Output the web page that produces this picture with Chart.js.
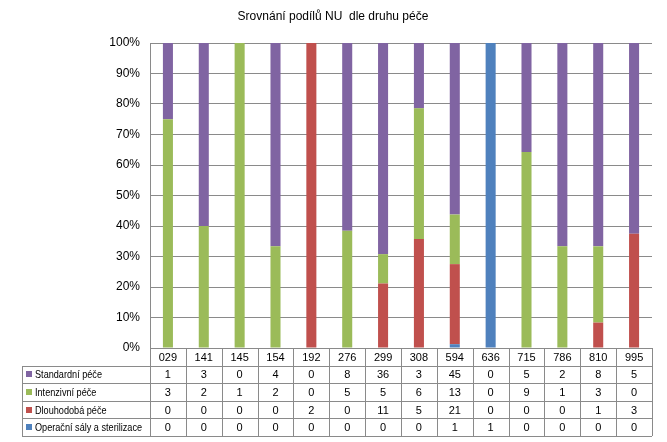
<!DOCTYPE html>
<html>
<head>
<meta charset="utf-8">
<script src="https://cdn.jsdelivr.net/npm/chart.js@4"></script>
<style>
  html, body { margin: 0; padding: 0; background: #fff; }
  #wrap { width: 667px; height: 442px; }
</style>
</head>
<body>
<div id="wrap"><canvas id="chart" width="667" height="442"></canvas></div>
<script>
// Chart data
const categories = ["029", "141", "145", "154", "192", "276", "299", "308", "594", "636", "715", "786", "810", "995"];
const standardCare = [1, 3, 0, 4, 0, 8, 36, 3, 45, 0, 5, 2, 8, 5];
const intensiveCare = [3, 2, 1, 2, 0, 5, 5, 6, 13, 0, 9, 1, 3, 0];
const longTermCare = [0, 0, 0, 0, 2, 0, 11, 5, 21, 0, 0, 0, 1, 3];
const operatingRooms = [0, 0, 0, 0, 0, 0, 0, 0, 1, 1, 0, 0, 0, 0];
const yTicks = [0, 10, 20, 30, 40, 50, 60, 70, 80, 90, 100];

const titleText = "Srovnání podílů NU  dle druhu péče";
const fontFamily = "'Liberation Sans', Arial, sans-serif";

// series from bottom of the stack to top
const series = [
  { name: "Operační sály a sterilizace", values: operatingRooms, color: "#4F81BD" },
  { name: "Dlouhodobá péče", values: longTermCare, color: "#C0504D" },
  { name: "Intenzivní péče", values: intensiveCare, color: "#9BBB59" },
  { name: "Standardní péče", values: standardCare, color: "#8064A2" },
];

// totals per category to turn counts into shares
const totals = categories.map((_, i) => series.reduce((s, d) => s + d.values[i], 0));

const datasets = series.map((s) => ({
  label: s.name,
  data: s.values.map((v, i) => (totals[i] ? (v / totals[i]) * 100 : 0)),
  backgroundColor: s.color,
  borderWidth: 0,
  barPercentage: 0.28,
  categoryPercentage: 1,
}));

// Draws the title and the data table under the plot
const tablePlugin = {
  id: "dataTable",
  afterDraw(chart) {
    const ctx = chart.ctx;
    const area = chart.chartArea;
    const x = chart.scales.x;
    const colW = (area.right - area.left) / categories.length;
    const rowH = 17.6;
    const tableLeft = 22;
    const headTop = area.bottom;
    const bodyTop = headTop + rowH;
    const rows = series.slice().reverse();
    const bottom = bodyTop + rowH * rows.length;

    ctx.save();
    // title
    ctx.fillStyle = "#000";
    ctx.font = "12px " + fontFamily;
    ctx.textAlign = "center";
    ctx.textBaseline = "middle";
    ctx.fillText(titleText, 333, 17);

    // table grid
    ctx.strokeStyle = "#8a8a8a";
    ctx.lineWidth = 1;
    ctx.beginPath();
    for (let r = 0; r <= rows.length; r++) {
      const y = Math.round(bodyTop + r * rowH) + 0.5;
      ctx.moveTo(tableLeft, y);
      ctx.lineTo(area.right, y);
    }
    for (let c = 0; c <= categories.length; c++) {
      const xx = Math.round(area.left + c * colW) + 0.5;
      ctx.moveTo(xx, headTop);
      ctx.lineTo(xx, bottom);
    }
    ctx.moveTo(tableLeft + 0.5, Math.round(bodyTop) + 0.5);
    ctx.lineTo(tableLeft + 0.5, Math.round(bottom) + 0.5);
    ctx.stroke();

    // header and values
    ctx.font = "11px " + fontFamily;
    ctx.fillStyle = "#000";
    categories.forEach((cat, i) => {
      const cx = x.getPixelForValue(i);
      ctx.fillText(cat, cx, headTop + rowH / 2 + 1);
      rows.forEach((s, r) => {
        ctx.fillText(String(s.values[i]), cx, bodyTop + r * rowH + rowH / 2 + 1);
      });
    });

    // legend keys and series names (squeezed a bit, the original font is narrow)
    ctx.textAlign = "left";
    rows.forEach((s, r) => {
      const cy = bodyTop + r * rowH + rowH / 2;
      ctx.fillStyle = s.color;
      ctx.fillRect(tableLeft + 4, Math.round(cy) - 3, 6, 6);
      ctx.fillStyle = "#000";
      const w = ctx.measureText(s.name).width * 0.83;
      ctx.fillText(s.name, tableLeft + 13, cy + 1, w);
    });
    ctx.restore();
  },
};

new Chart(document.getElementById("chart"), {
  type: "bar",
  data: { labels: categories, datasets },
  options: {
    responsive: false,
    animation: false,
    layout: { padding: { top: 43, right: 15, bottom: 94, left: 0 } },
    plugins: {
      legend: { display: false },
      title: { display: false },
      tooltip: { enabled: false },
    },
    scales: {
      x: {
        stacked: true,
        display: false,
      },
      y: {
        stacked: true,
        min: 0,
        max: 100,
        afterFit: (scale) => { scale.width = 150; },
        afterBuildTicks: (scale) => { scale.ticks = yTicks.map((v) => ({ value: v })); },
        ticks: {
          callback: (v) => v + "%",
          color: "#000",
          padding: 10,
          font: { size: 12, family: fontFamily },
        },
        grid: { color: "#8a8a8a", drawTicks: false },
        border: { color: "#8a8a8a" },
      },
    },
  },
  plugins: [tablePlugin],
});
</script>
</body>
</html>
